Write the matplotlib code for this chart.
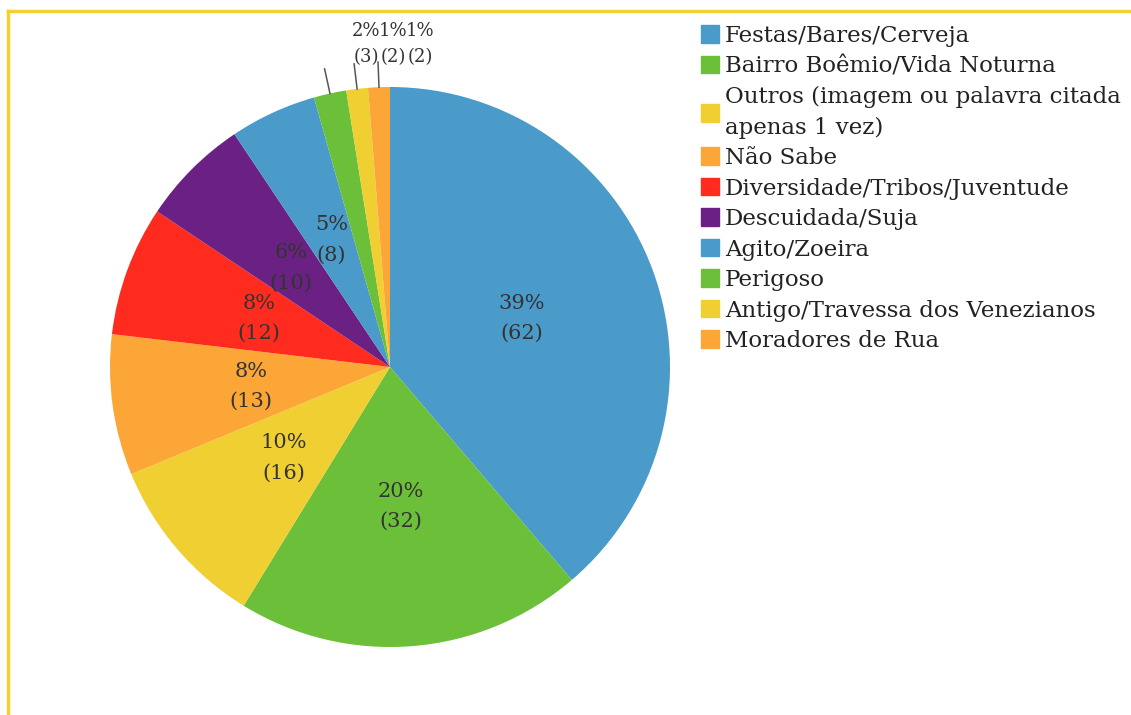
import numpy as np
import matplotlib
matplotlib.use('Agg')
import matplotlib.pyplot as plt
from matplotlib.lines import Line2D

# data
categories = ['Festas/Bares/Cerveja', 'Bairro Boêmio/Vida Noturna',
              'Outros (imagem ou palavra citada\napenas 1 vez)', 'Não Sabe',
              'Diversidade/Tribos/Juventude', 'Descuidada/Suja', 'Agito/Zoeira',
              'Perigoso', 'Antigo/Travessa dos Venezianos', 'Moradores de Rua']
counts = [62, 32, 16, 13, 12, 10, 8, 3, 2, 2]
colors = ['#4a9bc9', '#6cbf38', '#f0cf33', '#fba637', '#ff2b1f',
          '#6b2183', '#4a9bc9', '#6cbf38', '#f0cf33', '#fba637']

W, H, DPI = 1131, 715, 100
cx, cy, R = 390, 367, 280   # pie centre / radius in pixels

plt.rcParams['font.family'] = ['DejaVu Serif']
fig = plt.figure(figsize=(W / DPI, H / DPI), dpi=DPI)
ax = fig.add_axes([0, 0, 1, 1])

total = sum(counts)
wedges, _ = ax.pie(counts, colors=colors, startangle=90, counterclock=False,
                   radius=1.0, wedgeprops=dict(linewidth=0))

txt_color = '#333333'
n_inside = 7
for i, w in enumerate(wedges):
    mid = np.deg2rad((w.theta1 + w.theta2) / 2)
    pct = round(100 * counts[i] / total)
    label = '%d%%\n(%d)' % (pct, counts[i])
    if i < n_inside:
        ax.text(0.5 * np.cos(mid), 0.5 * np.sin(mid), label, ha='center', va='center',
                fontsize=15, color=txt_color, linespacing=1.75)
    else:
        # leader line out of the thin slices
        ax.plot([np.cos(mid), 1.09 * np.cos(mid)], [np.sin(mid), 1.09 * np.sin(mid)],
                color='#555555', lw=1.1)

# the three small labels sit side by side above the pie
small_x = [-0.086, 0.011, 0.107]
for j, i in enumerate(range(n_inside, len(counts))):
    pct = round(100 * counts[i] / total)
    ax.text(small_x[j], 1.155, '%d%%\n(%d)' % (pct, counts[i]), ha='center', va='center',
            fontsize=13, color=txt_color, linespacing=1.57)

ax.set_xlim(-cx / R, (W - cx) / R)
ax.set_ylim(-(H - cy) / R, cy / R)
ax.set_aspect('auto')
ax.axis('off')

handles = [plt.Rectangle((0, 0), 1, 1, color=c) for c in colors]
leg = fig.legend(handles, categories, loc='upper left', bbox_to_anchor=(701 / W, 1 - 25 / H),
                 frameon=False, fontsize=16.5, handlelength=0.8, handleheight=0.8,
                 handletextpad=0.25, labelspacing=0.37, borderaxespad=0, borderpad=0,
                 labelcolor='#222222')
for t in leg.get_texts():
    t.set_linespacing(1.5)

# yellow frame on top and left
fig.add_artist(Line2D([8 / W, 1], [1 - 11 / H, 1 - 11 / H], color='#f2d232', lw=2.5))
fig.add_artist(Line2D([8 / W, 8 / W], [0, 1 - 11 / H], color='#f2d232', lw=2.5))

fig.savefig('out.png', dpi=DPI)
